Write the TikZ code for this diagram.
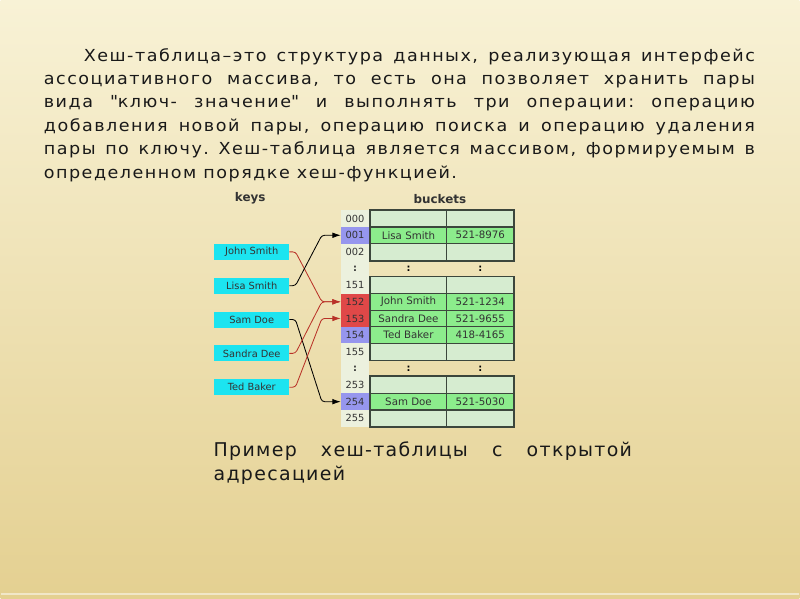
\documentclass[tikz,border=0pt]{standalone}
\usepackage{fontspec}
\setmainfont{DejaVu Sans}
\newfontfamily\paraspaced[FakeStretch=1.06,LetterSpace=9]{DejaVu Sans}
\newfontfamily\capspaced[LetterSpace=7]{DejaVu Sans}
\usetikzlibrary{positioning,arrows.meta,calc}

\definecolor{bgtop}{RGB}{248,242,214}
\definecolor{bgbot}{RGB}{228,208,145}
\definecolor{keycyan}{RGB}{28,228,240}
\definecolor{idxblue}{RGB}{150,150,238}
\definecolor{idxred}{RGB}{224,72,72}
\definecolor{idxpale}{RGB}{236,241,222}
\definecolor{rowfull}{RGB}{140,236,140}
\definecolor{rowempty}{RGB}{214,236,208}
\definecolor{tabline}{RGB}{60,70,60}
\definecolor{linkred}{RGB}{185,50,40}

\begin{document}
\frenchspacing
\begin{tikzpicture}[x=0.025cm,y=-0.025cm,
    key/.style={fill=keycyan,minimum width=1.875cm,minimum height=0.4cm,inner sep=0pt,
        font=\fontsize{7}{8}\selectfont,text=black!80},
    idx/.style={minimum width=0.7cm,minimum height=0.4167cm,inner sep=0pt,
        font=\fontsize{7}{8}\selectfont,text=black!80},
    cellname/.style={draw=tabline,line width=0.8pt,minimum width=1.925cm,minimum height=0.4167cm,
        inner sep=0pt,font=\fontsize{7.3}{8}\selectfont,text=black!80},
    cellphone/.style={cellname,minimum width=1.675cm},
    link/.style={-{Latex[length=6pt,width=4pt]},line width=0.6pt,rounded corners=2pt}]

    % slide background
    \shade[top color=bgtop,bottom color=bgbot] (0,0) rectangle (800,600);
    \draw[white,opacity=0.5,line width=1pt] (0,595) -- (800,595);
    \useasboundingbox (0,0) rectangle (800,600);

    % text above
    \node[anchor=north west,text width=17.8cm,align=justify,inner sep=0pt,
        font=\paraspaced\fontsize{11.8}{16.7}\selectfont,text=black!90] (para) at (43,48)
        {\hspace*{1cm}Хеш-таблица–это структура данных, реализующая интерфейс\linebreak
        ассоциативного массива, то есть она позволяет хранить пары\linebreak
        вида \textquotedbl ключ- значение\textquotedbl\ и выполнять три операции: операцию\linebreak
        добавления новой пары, операцию поиска и операцию удаления\linebreak
        пары по ключу. Хеш-таблица является массивом, формируемым в\linebreak
        определенном порядке хеш-функцией.};

    % headers
    \node[font=\bfseries\fontsize{8.5}{10}\selectfont,text=black!80] (keyslbl) at (250,199) {keys};
    \node[font=\bfseries\fontsize{8.5}{10}\selectfont,text=black!80] (bktlbl) at (440,199) {buckets};

    % keys
    \node[key] (john) at (251.5,252.3) {John Smith};
    \node[key,below=0.433cm of john] (lisa) {Lisa Smith};
    \node[key,below=0.433cm of lisa] (sam) {Sam Doe};
    \node[key,below=0.433cm of sam] (sandra) {Sandra Dee};
    \node[key,below=0.433cm of sandra] (ted) {Ted Baker};

    % buckets
    \foreach \k/\n/\fc/\rc/\who/\tel in {
        0/000/idxpale/rowempty/{}/{},
        1/001/idxblue/rowfull/Lisa Smith/521-8976,
        2/002/idxpale/rowempty/{}/{},
        4/151/idxpale/rowempty/{}/{},
        5/152/idxred/rowfull/John Smith/521-1234,
        6/153/idxred/rowfull/Sandra Dee/521-9655,
        7/154/idxblue/rowfull/Ted Baker/418-4165,
        8/155/idxpale/rowempty/{}/{},
        10/253/idxpale/rowempty/{}/{},
        11/254/idxblue/rowfull/Sam Doe/521-5030,
        12/255/idxpale/rowempty/{}/{}} {
        \pgfmathsetmacro\y{219+16.67*\k}
        \node[idx,fill=\fc] (i\n) at (355,\y) {\n};
        \node[cellname,fill=\rc] (n\n) at (408.5,\y) {\who};
        \node[cellphone,fill=\rc] (p\n) at (480.5,\y) {\tel};
    }
    \foreach \k in {3,9} {
        \pgfmathsetmacro\y{219+16.67*\k}
        \node[idx,fill=idxpale,font=\bfseries\fontsize{7}{8}\selectfont] (di\k) at (355,\y) {:};
        \node[font=\bfseries\fontsize{7}{8}\selectfont] (dn\k) at (408.5,\y) {:};
        \node[font=\bfseries\fontsize{7}{8}\selectfont] (dp\k) at (480.5,\y) {:};
    }
    \draw[tabline,line width=1.1pt] (n000.north west) rectangle (p002.south east);
    \draw[tabline,line width=1.1pt] (n151.north west) rectangle (p155.south east);
    \draw[tabline,line width=1.1pt] (n253.north west) rectangle (p255.south east);

    % hash links
    \draw[link,linkred] (john.east) -- ++(6,0) -- ($(i152.west)+(-19,0)$) -- (i152.west);
    \draw[link] (lisa.east) -- ++(6,0) -- ($(i001.west)+(-19,0)$) -- (i001.west);
    \draw[link] (sam.east) -- ++(6,0) -- ($(i254.west)+(-19,0)$) -- (i254.west);
    \draw[link,linkred] (sandra.east) -- ++(6,0) -- ($(i152.west)+(-19,0)$) -- (i152.west);
    \draw[link,linkred] (ted.east) -- ++(6,0) -- ($(i153.west)+(-19,0)$) -- (i153.west);

    % caption
    \node[anchor=north west,text width=10.475cm,align=justify,inner sep=0pt,
        font=\capspaced\fontsize{13.5}{17.1}\selectfont,text=black!90] (caption) at (213,442)
        {Пример хеш-таблицы с открытой\linebreak адресацией};
\end{tikzpicture}
\end{document}
